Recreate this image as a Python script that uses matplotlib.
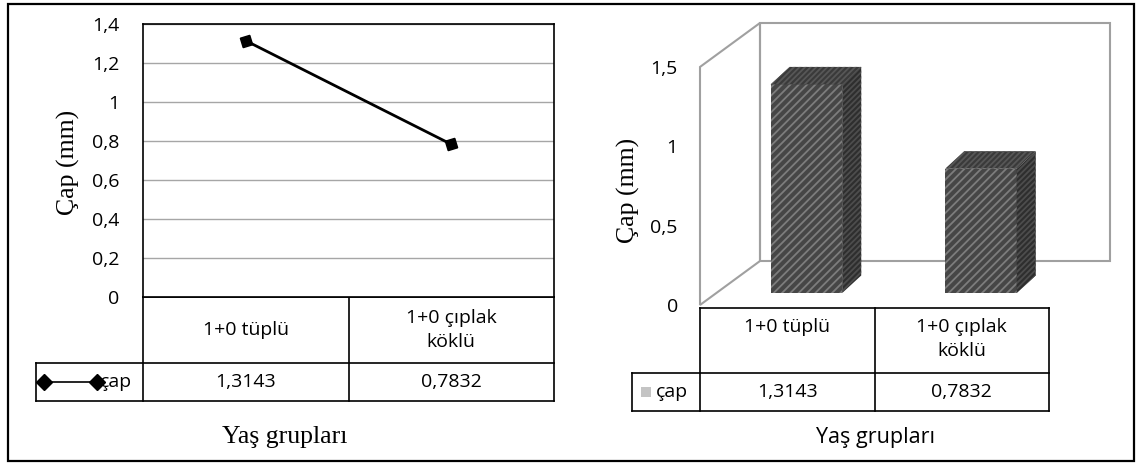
import matplotlib
matplotlib.use("Agg")
import matplotlib.pyplot as plt
from matplotlib.patches import Rectangle, Polygon

# ---------------------------------------------------------------------------
# Data
# ---------------------------------------------------------------------------

categories = ["1+0 tüplü", "1+0 çıplak\nköklü"]
cap_values = [1.3143, 0.7832]
series_name = "çap"
y_title = "Çap (mm)"
x_title = "Yaş grupları"
line_ticks = [0, 0.2, 0.4, 0.6, 0.8, 1.0, 1.2, 1.4]
bar_ticks = [0, 0.5, 1.0, 1.5]

# ---------------------------------------------------------------------------
# Layout (pixels)
# ---------------------------------------------------------------------------

W, H = 1137, 463
SANS = ["Open Sans", "DejaVu Sans"]
SERIF = ["Liberation Serif", "DejaVu Serif"]
FS = 14
plt.rcParams["font.family"] = SANS
plt.rcParams["hatch.linewidth"] = 1.3


def comma(v, fmt="{:g}"):
    return fmt.format(v).replace(".", ",")


def px_axes(fig, left, top, right, bottom):
    return fig.add_axes([left / W, 1 - bottom / H, (right - left) / W, (bottom - top) / H])


fig = plt.figure(figsize=(W / 100, H / 100), dpi=100)

# overlay in pixel coordinates for frame, data tables and titles
ov = fig.add_axes([0, 0, 1, 1])
ov.set_xlim(0, W)
ov.set_ylim(H, 0)
ov.axis("off")
ov.add_patch(Rectangle((8, 4), 1126, 457, fill=False, ec="black", lw=1.6, clip_on=False))


def draw_table(ax, x_leg, x0, x1, y0, y1, y2, legend, labels, top_text=False):
    """Two-row data table under a chart; returns column centres."""
    kw = dict(color="black", lw=1.2, solid_capstyle="projecting")
    xs = [x0 + (x1 - x0) * i / len(labels) for i in range(len(labels) + 1)]
    ax.plot([x0, x1], [y0, y0], **kw)
    ax.plot([x_leg, x1], [y1, y1], **kw)
    ax.plot([x_leg, x1], [y2, y2], **kw)
    ax.plot([x_leg, x_leg], [y1, y2], **kw)
    for x in xs:
        ax.plot([x, x], [y0, y2], **kw)
    centres = [(xs[i] + xs[i + 1]) / 2 for i in range(len(labels))]
    for c, cat, v in zip(centres, categories, labels):
        if top_text:
            ax.text(c, y0 + 10, cat, ha="center", va="top", fontsize=FS, linespacing=1.45)
        else:
            ax.text(c, (y0 + y1) / 2, cat, ha="center", va="center", fontsize=FS, linespacing=1.45)
        ax.text(c, (y1 + y2) / 2, comma(v, "{:.4f}"), ha="center", va="center", fontsize=FS)
    legend((y1 + y2) / 2)
    return centres


# ---------------------------------------------------------------------------
# Left: line chart
# ---------------------------------------------------------------------------

ax1 = px_axes(fig, 143, 24, 554, 297)
ax1.plot(range(len(cap_values)), cap_values, color="black", lw=2,
         marker=(4, 0, 62), ms=10, mfc="black", mec="black", zorder=3)
ax1.set_xlim(-0.5, len(cap_values) - 0.5)
ax1.set_ylim(line_ticks[0], line_ticks[-1])
ax1.set_xticks([])
ax1.set_yticks(line_ticks)
ax1.set_yticklabels([comma(t) for t in line_ticks])
ax1.tick_params(axis="y", length=0, pad=17, labelsize=FS)
ax1.yaxis.grid(True, color="#a6a6a6", lw=1)
for s in ax1.spines.values():
    s.set_color("black")
    s.set_linewidth(1.2)


def line_legend(yc):
    ov.plot([44, 97], [yc, yc], color="black", lw=1.2, marker="D", ms=8, mfc="black")
    ov.text(100, yc, series_name, ha="left", va="center", fontsize=FS)


draw_table(ov, 36, 143, 554, 297, 363, 401, line_legend, cap_values)
ov.text(68, 162, y_title, rotation=90, ha="center", va="center", fontsize=18.5, family=SERIF)
ov.text(285, 437, x_title, ha="center", va="center", fontsize=18.5, family=SERIF)

# ---------------------------------------------------------------------------
# Right: pseudo-3D bar chart
# ---------------------------------------------------------------------------

sx, sy = 174.5, 158.7                 # pixels per x unit / per value unit
ax2 = px_axes(fig, 700, 22, 1110, 305)
ax2.set_xlim(-0.5, -0.5 + 410 / sx)
ax2.set_ylim(0, 283 / sy)
for s in ax2.spines.values():
    s.set_visible(False)
ax2.set_xticks([])
ax2.set_yticks(bar_ticks)
ax2.set_yticklabels([comma(t) for t in bar_ticks])
ax2.tick_params(axis="y", length=0, pad=16, labelsize=FS)

# walls
wall = dict(fill=False, ec="#a0a0a0", lw=1.5, clip_on=False, joinstyle="miter")
wdx, wdy = 60 / sx, 44 / sy
wtop = bar_ticks[-1]
ax2.add_patch(Polygon([(-0.5, 0), (-0.5, wtop), (-0.5 + wdx, wtop + wdy), (-0.5 + wdx, wdy)], **wall))
ax2.add_patch(Rectangle((-0.5 + wdx, wdy), 1.85 - (-0.5 + wdx), wtop, **wall))

# bars: front face plus side and top faces
base = 12 / sy
bw = 0.41
ddx, ddy = 19 / sx, 17.5 / sy
xpos = [i + 0.11 for i in range(len(cap_values))]
ax2.bar(xpos, cap_values, width=bw, bottom=base, color="#464646",
        edgecolor="#7d7d7d", hatch="////", lw=0, zorder=3)
for x, v in zip(xpos, cap_values):
    xl, xr, top = x - bw / 2, x + bw / 2, base + v
    ax2.add_patch(Polygon([(xl, top), (xr, top), (xr + ddx, top + ddy), (xl + ddx, top + ddy)],
                          fc="#3a3a3a", ec="#575757", hatch="//////", lw=0, zorder=3))
    ax2.add_patch(Polygon([(xr, base), (xr + ddx, base + ddy), (xr + ddx, top + ddy), (xr, top)],
                          fc="#2e2e2e", ec="#4d4d4d", hatch="//////", lw=0, zorder=3))


def bar_legend(yc):
    ov.add_patch(Rectangle((641, yc - 5), 10, 10, fc="#c4c4c4", ec="none"))
    ov.text(656, yc, series_name, ha="left", va="center", fontsize=FS)


draw_table(ov, 632, 700, 1049, 308, 373, 411, bar_legend, cap_values, top_text=True)
ov.text(628, 190, y_title, rotation=90, ha="center", va="center", fontsize=18.5, family=SERIF)
ov.text(876, 437, x_title, ha="center", va="center", fontsize=15.5)

fig.savefig("out.png", dpi=100)
